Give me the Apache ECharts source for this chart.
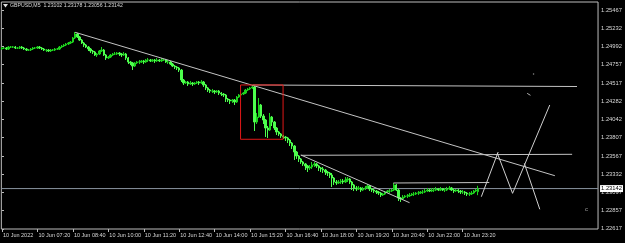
<!DOCTYPE html>
<html><head><meta charset="utf-8">
<script src="https://cdn.jsdelivr.net/npm/echarts@6/dist/echarts.min.js"></script>
<style>html,body{margin:0;padding:0;background:#000;}#c{width:625px;height:243px;}</style>
</head><body><div id="c"></div>
<script>
// ---- data ----
const symbolTitle = 'GBPUSD,M5  1.23102 1.23178 1.23056 1.23142';
const tickIndex = [0,16,32,48,64,80,96,112,128,144,160,176,192,208];
const tickLabels = ['10 Jun 2022','10 Jun 07:20','10 Jun 08:40','10 Jun 10:00','10 Jun 11:20','10 Jun 12:40','10 Jun 14:00','10 Jun 15:20','10 Jun 16:40','10 Jun 18:00','10 Jun 19:20','10 Jun 20:40','10 Jun 22:00','10 Jun 23:20'];
const priceTicks = [1.25467,1.25232,1.24992,1.24757,1.24517,1.24282,1.24042,1.23807,1.23567,1.23332,1.23097,1.22857,1.22617];
const bidPrice = 1.23142;

const opens = [
1.24962,1.24975,1.24975,1.24962,1.24988,1.24988,1.24988,1.24975,1.24975,1.24988,
1.24975,1.24962,1.24949,1.24949,1.24962,1.24975,1.24975,1.24988,1.24975,1.24962,
1.24949,1.24949,1.24936,1.24949,1.24949,1.24962,1.24962,1.24988,1.25001,1.25014,
1.25027,1.25040,1.25053,1.25106,1.25158,1.25119,1.25079,1.25040,1.25014,1.24988,
1.24962,1.24936,1.24923,1.24884,1.24897,1.24936,1.24949,1.24884,1.24845,1.24858,
1.24884,1.24897,1.24897,1.24910,1.24897,1.24884,1.24897,1.24845,1.24793,1.24780,
1.24740,1.24780,1.24793,1.24793,1.24806,1.24793,1.24819,1.24819,1.24806,1.24819,
1.24806,1.24819,1.24806,1.24819,1.24819,1.24793,1.24793,1.24766,1.24740,1.24727,
1.24714,1.24688,1.24558,1.24519,1.24532,1.24506,1.24519,1.24506,1.24519,1.24532,
1.24519,1.24532,1.24493,1.24454,1.24427,1.24414,1.24414,1.24401,1.24414,1.24388,
1.24375,1.24362,1.24310,1.24297,1.24284,1.24297,1.24271,1.24336,1.24362,1.24375,
1.24388,1.24427,1.24441,1.24454,1.24467,1.24010,1.24075,1.24232,1.24088,1.24036,
1.23932,1.23906,1.24075,1.24010,1.23932,1.23880,1.23854,1.23828,1.23815,1.23802,
1.23775,1.23736,1.23697,1.23619,1.23567,1.23528,1.23489,1.23463,1.23437,1.23411,
1.23424,1.23450,1.23463,1.23437,1.23411,1.23398,1.23384,1.23358,1.23345,1.23319,
1.23280,1.23228,1.23215,1.23228,1.23241,1.23228,1.23254,1.23267,1.23228,1.23189,
1.23150,1.23137,1.23150,1.23123,1.23137,1.23150,1.23176,1.23137,1.23123,1.23110,
1.23097,1.23084,1.23058,1.23071,1.23097,1.23110,1.23110,1.23123,1.23189,1.23123,
1.23019,1.23006,1.23032,1.23045,1.23045,1.23058,1.23071,1.23071,1.23084,1.23084,
1.23097,1.23097,1.23110,1.23123,1.23110,1.23123,1.23123,1.23137,1.23123,1.23137,
1.23123,1.23123,1.23137,1.23150,1.23123,1.23110,1.23123,1.23110,1.23097,1.23097,
1.23084,1.23071,1.23071,1.23084,1.23110,1.23102];

const closes = [
1.24975,1.24975,1.24962,1.24988,1.24988,1.24988,1.24975,1.24975,1.24988,1.24975,
1.24962,1.24949,1.24949,1.24962,1.24975,1.24975,1.24988,1.24975,1.24962,1.24949,
1.24949,1.24936,1.24949,1.24949,1.24962,1.24962,1.24988,1.25001,1.25014,1.25027,
1.25040,1.25053,1.25106,1.25158,1.25119,1.25079,1.25040,1.25014,1.24988,1.24962,
1.24936,1.24923,1.24884,1.24897,1.24936,1.24949,1.24884,1.24845,1.24858,1.24884,
1.24897,1.24897,1.24910,1.24897,1.24884,1.24897,1.24845,1.24793,1.24780,1.24740,
1.24780,1.24793,1.24793,1.24806,1.24793,1.24819,1.24819,1.24806,1.24819,1.24806,
1.24819,1.24806,1.24819,1.24819,1.24793,1.24793,1.24766,1.24740,1.24727,1.24714,
1.24688,1.24558,1.24519,1.24532,1.24506,1.24519,1.24506,1.24519,1.24532,1.24519,
1.24532,1.24493,1.24454,1.24427,1.24414,1.24414,1.24401,1.24414,1.24388,1.24375,
1.24362,1.24310,1.24297,1.24284,1.24297,1.24271,1.24336,1.24362,1.24375,1.24388,
1.24427,1.24441,1.24454,1.24467,1.24010,1.24075,1.24232,1.24088,1.24036,1.23932,
1.23906,1.24075,1.24010,1.23932,1.23880,1.23854,1.23828,1.23815,1.23802,1.23775,
1.23736,1.23697,1.23619,1.23567,1.23528,1.23489,1.23463,1.23437,1.23411,1.23424,
1.23450,1.23463,1.23437,1.23411,1.23398,1.23384,1.23358,1.23345,1.23319,1.23280,
1.23228,1.23215,1.23228,1.23241,1.23228,1.23254,1.23267,1.23228,1.23189,1.23150,
1.23137,1.23150,1.23123,1.23137,1.23150,1.23176,1.23137,1.23123,1.23110,1.23097,
1.23084,1.23058,1.23071,1.23097,1.23110,1.23110,1.23123,1.23189,1.23123,1.23019,
1.23006,1.23032,1.23045,1.23045,1.23058,1.23071,1.23071,1.23084,1.23084,1.23097,
1.23097,1.23110,1.23123,1.23110,1.23123,1.23123,1.23137,1.23123,1.23137,1.23123,
1.23123,1.23137,1.23150,1.23123,1.23110,1.23123,1.23110,1.23097,1.23097,1.23084,
1.23071,1.23071,1.23084,1.23110,1.23123,1.23142];

const highs = [
1.24988,1.24988,1.24988,1.25001,1.25001,1.25001,1.25001,1.24988,1.25001,1.25001,
1.24988,1.24975,1.24962,1.24975,1.24988,1.24988,1.25001,1.25001,1.24988,1.24975,
1.24962,1.24962,1.24962,1.24962,1.24975,1.24975,1.25001,1.25014,1.25027,1.25040,
1.25053,1.25066,1.25119,1.25184,1.25171,1.25132,1.25092,1.25053,1.25027,1.25001,
1.24975,1.24949,1.24936,1.24910,1.24949,1.24988,1.24962,1.24897,1.24871,1.24897,
1.24910,1.24923,1.24923,1.24923,1.24910,1.24923,1.24910,1.24858,1.24806,1.24793,
1.24793,1.24806,1.24819,1.24819,1.24819,1.24832,1.24845,1.24832,1.24832,1.24832,
1.24845,1.24832,1.24845,1.24832,1.24832,1.24819,1.24806,1.24780,1.24753,1.24740,
1.24727,1.24701,1.24571,1.24545,1.24545,1.24545,1.24532,1.24532,1.24545,1.24545,
1.24558,1.24545,1.24506,1.24467,1.24441,1.24441,1.24427,1.24427,1.24427,1.24401,
1.24388,1.24375,1.24323,1.24310,1.24310,1.24310,1.24349,1.24375,1.24388,1.24401,
1.24441,1.24454,1.24467,1.24493,1.24480,1.24128,1.24323,1.24245,1.24114,1.24049,
1.23958,1.24128,1.24088,1.24023,1.23945,1.23893,1.23867,1.23841,1.23828,1.23815,
1.23789,1.23749,1.23710,1.23632,1.23580,1.23541,1.23502,1.23476,1.23450,1.23450,
1.23489,1.23489,1.23476,1.23450,1.23424,1.23424,1.23398,1.23371,1.23358,1.23345,
1.23293,1.23254,1.23254,1.23267,1.23267,1.23293,1.23293,1.23280,1.23241,1.23202,
1.23176,1.23176,1.23163,1.23163,1.23176,1.23202,1.23189,1.23150,1.23137,1.23123,
1.23110,1.23097,1.23084,1.23110,1.23123,1.23137,1.23137,1.23215,1.23202,1.23137,
1.23032,1.23058,1.23058,1.23071,1.23084,1.23084,1.23097,1.23097,1.23110,1.23110,
1.23123,1.23137,1.23150,1.23137,1.23150,1.23150,1.23163,1.23150,1.23163,1.23150,
1.23150,1.23163,1.23176,1.23163,1.23137,1.23137,1.23137,1.23123,1.23123,1.23110,
1.23097,1.23097,1.23110,1.23123,1.23137,1.23178];

const lows = [
1.24949,1.24962,1.24949,1.24949,1.24975,1.24975,1.24962,1.24962,1.24962,1.24962,
1.24949,1.24936,1.24936,1.24936,1.24949,1.24962,1.24962,1.24962,1.24949,1.24936,
1.24923,1.24923,1.24923,1.24936,1.24936,1.24949,1.24949,1.24975,1.24988,1.25001,
1.25014,1.25027,1.25040,1.25092,1.25106,1.25066,1.25027,1.24988,1.24975,1.24936,
1.24910,1.24897,1.24871,1.24858,1.24884,1.24923,1.24871,1.24819,1.24832,1.24845,
1.24871,1.24884,1.24884,1.24871,1.24858,1.24871,1.24819,1.24766,1.24753,1.24688,
1.24727,1.24766,1.24766,1.24780,1.24766,1.24780,1.24793,1.24793,1.24793,1.24780,
1.24793,1.24793,1.24793,1.24806,1.24780,1.24766,1.24753,1.24727,1.24701,1.24688,
1.24662,1.24532,1.24493,1.24506,1.24480,1.24493,1.24480,1.24493,1.24506,1.24493,
1.24506,1.24467,1.24427,1.24401,1.24388,1.24388,1.24375,1.24388,1.24362,1.24349,
1.24336,1.24271,1.24271,1.24245,1.24258,1.24232,1.24258,1.24323,1.24349,1.24362,
1.24375,1.24414,1.24427,1.24441,1.23893,1.23984,1.24062,1.24062,1.23984,1.23815,
1.23802,1.23893,1.23958,1.23906,1.23841,1.23828,1.23802,1.23789,1.23762,1.23736,
1.23697,1.23658,1.23515,1.23528,1.23489,1.23463,1.23437,1.23384,1.23358,1.23384,
1.23398,1.23424,1.23411,1.23371,1.23358,1.23345,1.23319,1.23306,1.23280,1.23163,
1.23189,1.23189,1.23202,1.23202,1.23202,1.23215,1.23228,1.23202,1.23123,1.23110,
1.23110,1.23123,1.23097,1.23110,1.23123,1.23137,1.23110,1.23097,1.23084,1.23071,
1.23058,1.23032,1.23045,1.23058,1.23084,1.23084,1.23097,1.23110,1.23110,1.22980,
1.22967,1.22993,1.23019,1.23019,1.23032,1.23045,1.23045,1.23058,1.23058,1.23071,
1.23071,1.23084,1.23097,1.23097,1.23097,1.23097,1.23110,1.23110,1.23110,1.23110,
1.23097,1.23110,1.23123,1.23110,1.23084,1.23097,1.23084,1.23071,1.23071,1.23058,
1.23045,1.23045,1.23058,1.23071,1.23097,1.23056];

// drawn objects, in [bar index, price]
const trendLine1 = [[33.0,1.25180],[249.6,1.23310]];
const levelLine1 = [[113.2,1.24493],[259.6,1.24473]];
const levelLine2 = [[134.9,1.23576],[257.4,1.23589]];
const trendLine2 = [[134.9,1.23580],[184.0,1.22958]];
const levelLine3 = [[176.7,1.23215],[220.0,1.23221]];
const redBox = [[107.7,1.24493],[126.9,1.24493],[126.9,1.23785],[107.7,1.23785],[107.7,1.24493]];
const zigA = [[216.4,1.23036],[224.0,1.23619]];
const zigB = [[223.6,1.23606],[230.5,1.23080]];
const zigC = [[230.5,1.23080],[247.3,1.24232]];
const zigD = [[235.8,1.23472],[242.8,1.22872]];
const smallTick = [[237.1,1.24384],[238.6,1.24358]];
const dotMark = [[240.0,1.24636]];
const letterMark = [[263.9,1.22872]];
const bidLine = [[-0.3,bidPrice],[269.1,bidPrice]];

// ---- chart ----
const FONT = 'Liberation Sans';
const TXT = '#d8d8d8';
const candleData = opens.map((o, i) => [i, o, closes[i], lows[i], highs[i]]);
function seg(data, color, z) {
  return {type:'line', data:data, showSymbol:false, symbol:'none', silent:true, animation:false, z:z || 4,
    lineStyle:{color:color || '#c4c4c4', width:1}};
}
const bidSeries = seg(bidLine, '#8a94a0', 2);
bidSeries.clip = false;
bidSeries.endLabel = {show:true, formatter:() => bidPrice.toFixed(5), backgroundColor:'#ffffff', color:'#000',
  fontSize:5.8, fontFamily:FONT, padding:[1,1,0,1], distance:2};

const chart = echarts.init(document.getElementById('c'), null, {renderer:'canvas'});
chart.setOption({
  backgroundColor:'#000',
  animation:false,
  title:{text:symbolTitle, left:10, top:3.5, padding:0, textStyle:{color:TXT, fontSize:5.2, fontWeight:'normal', fontFamily:FONT}},
  graphic:[{type:'polygon', shape:{points:[[3,4],[8,4],[5.5,7.5]]}, style:{fill:'#e0e0e0'}}],
  grid:{left:1, top:2, right:26, bottom:14, show:true, borderColor:'#bdbdbd', borderWidth:1, backgroundColor:'#000'},
  xAxis:{type:'value', min:-0.3, max:269.1,
    axisLine:{show:false}, splitLine:{show:false},
    axisTick:{show:true, length:3, customValues:tickIndex, lineStyle:{color:'#bdbdbd'}},
    axisLabel:{customValues:tickIndex, formatter:v => tickLabels[tickIndex.indexOf(Math.round(v))] || '',
      align:'left', margin:3, padding:[0,0,0,1], color:TXT, fontSize:5.5, fontFamily:FONT, hideOverlap:false}},
  yAxis:{type:'value', position:'right', min:1.22615, max:1.25575, scale:true,
    axisLine:{show:false}, splitLine:{show:false},
    axisTick:{show:true, length:2, customValues:priceTicks, lineStyle:{color:'#bdbdbd'}},
    axisLabel:{customValues:priceTicks, formatter:v => v.toFixed(5), margin:3, color:TXT, fontSize:5.8, fontFamily:FONT}},
  series:[
    bidSeries,
    {type:'candlestick', data:candleData, barWidth:1.9, z:3,
      itemStyle:{color:'#1ed21e', color0:'#4dff4d', borderColor:'#1ed21e', borderColor0:'#4dff4d', borderWidth:1}},
    seg(trendLine1), seg(levelLine1), seg(levelLine2), seg(trendLine2), seg(levelLine3),
    seg(redBox, '#e01818'),
    seg(zigA, '#d0d0d0'), seg(zigB, '#d0d0d0'), seg(zigC, '#d0d0d0'), seg(zigD, '#d0d0d0'),
    seg(smallTick, '#b0b0b0'),
    {type:'scatter', data:dotMark, symbolSize:1.5, silent:true, itemStyle:{color:'#b0b0b0'}},
    {type:'scatter', data:letterMark, symbolSize:0, silent:true,
      label:{show:true, position:'inside', formatter:'c', color:'#c0c0c0', fontSize:6, fontFamily:FONT}}
  ]
});
</script></body></html>
